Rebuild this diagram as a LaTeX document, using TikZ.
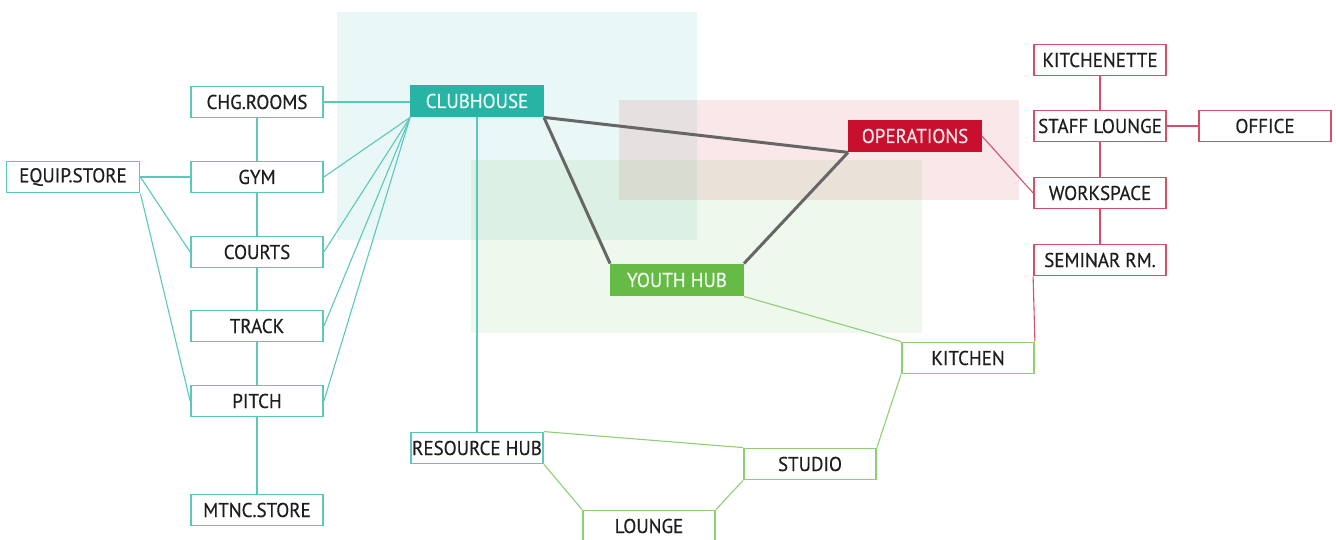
\documentclass[tikz,border=0pt]{standalone}
\usepackage{fontspec}
\setmainfont[FakeStretch=0.95,FakeBold=0.4]{PT Sans}
\definecolor{teal1}{HTML}{27B4A5}
\definecolor{teall}{HTML}{5CC8BB}
\definecolor{green1}{HTML}{66BB47}
\definecolor{greenl}{HTML}{8ECF76}
\definecolor{red1}{HTML}{C8102E}
\definecolor{redl}{HTML}{D4506A}
\definecolor{txt}{HTML}{1E1E1E}
\definecolor{hub}{HTML}{666666}
\tikzset{
  box/.style={draw, fill=white, line width=1.8pt, minimum width=132pt, minimum height=31pt, inner sep=0pt, font=\fontsize{20}{22}\selectfont, text=txt},
  tbox/.style={box, draw=teall},
  gbox/.style={box, draw=greenl},
  rbox/.style={box, draw=redl},
  tfill/.style={box, draw=teal1, fill=teal1, text=white!92!teal1},
  gfill/.style={box, draw=green1, fill=green1, text=white!92!green1},
  rfill/.style={box, draw=red1, fill=red1, text=white!90!red1},
  tl/.style={draw=teall, line width=1.1pt},
  gl/.style={draw=greenl, line width=1.1pt},
  rl/.style={draw=redl, line width=1.1pt},
  hl/.style={draw=hub, line width=3pt},
}
\begin{document}
\begin{tikzpicture}[x=1pt,y=-1pt]
\useasboundingbox (0,0) rectangle (1336,540);
% regions
\fill[teal1, fill opacity=0.1] (337,12) rectangle (697,240);
\fill[red1, fill opacity=0.1] (619,100) rectangle (1019,200);
\fill[green1, fill opacity=0.1] (471,160) rectangle (922,333);
% nodes
\node[tbox] (chg) at (257,102) {CHG.ROOMS};
\node[tbox] (gym) at (257,177) {GYM};
\node[tbox, minimum width=133pt] (equip) at (73,177) {EQUIP.STORE};
\node[tbox] (courts) at (257,252) {COURTS};
\node[tbox] (track) at (257,326) {TRACK};
\node[tbox] (pitch) at (257,401) {PITCH};
\node[tbox] (mtnc) at (257,510) {MTNC.STORE};
\node[tfill] (club) at (477,101) {CLUBHOUSE};
\node[tbox] (res) at (477,448) {RESOURCE HUB};
\node[gbox] (lounge) at (649,526) {LOUNGE};
\node[gbox] (studio) at (810,464) {STUDIO};
\node[gbox] (kitchen) at (968,358) {KITCHEN};
\node[gfill] (youth) at (677,280) {YOUTH HUB};
\node[rfill] (ops) at (915,136) {OPERATIONS};
\node[rbox] (kitn) at (1100,60) {KITCHENETTE};
\node[rbox] (staff) at (1100,126) {STAFF LOUNGE};
\node[rbox] (office) at (1265,126) {OFFICE};
\node[rbox] (work) at (1100,193) {WORKSPACE};
\node[rbox] (sem) at (1100,260) {SEMINAR RM.};
% teal edges
\draw[tl] (chg.east) -- (club.west |- chg.east);
\draw[tl] (chg) -- (gym);
\draw[tl] (gym) -- (courts);
\draw[tl] (courts) -- (track);
\draw[tl] (track) -- (pitch);
\draw[tl] (pitch) -- (mtnc);
\draw[tl] (equip) -- (gym);
\draw[tl] (equip.east) -- (courts.west);
\draw[tl] (equip.south east) -- (pitch.west);
\draw[tl] (club.south west) -- (gym.east);
\draw[tl] (club.south west) -- (courts.east);
\draw[tl] (club.south west) -- (track.east);
\draw[tl] (club.south west) -- (pitch.east);
\draw[tl] (club.south) -- (res.north);
% hub edges
\draw[hl] (club.south east) -- (youth.north west);
\draw[hl] (club.south east) -- (ops.south west);
\draw[hl] (youth.north east) -- (ops.south west);
% green edges
\draw[gl] (youth.south east) -- (kitchen.north west);
\draw[gl] (kitchen.south west) -- (studio.north east);
\draw[gl] (res.north east) -- (studio.north west);
\draw[gl] (res.south east) -- (lounge.north west);
\draw[gl] (lounge.north east) -- (studio.south west);
% red edges
\draw[rl] (ops.east) -- (work.west);
\draw[rl] (kitn) -- (staff);
\draw[rl] (staff) -- (work);
\draw[rl] (work) -- (sem);
\draw[rl] (staff) -- (office);
\draw[rl] (sem.south west) -- (kitchen.north east);
\end{tikzpicture}
\end{document}
